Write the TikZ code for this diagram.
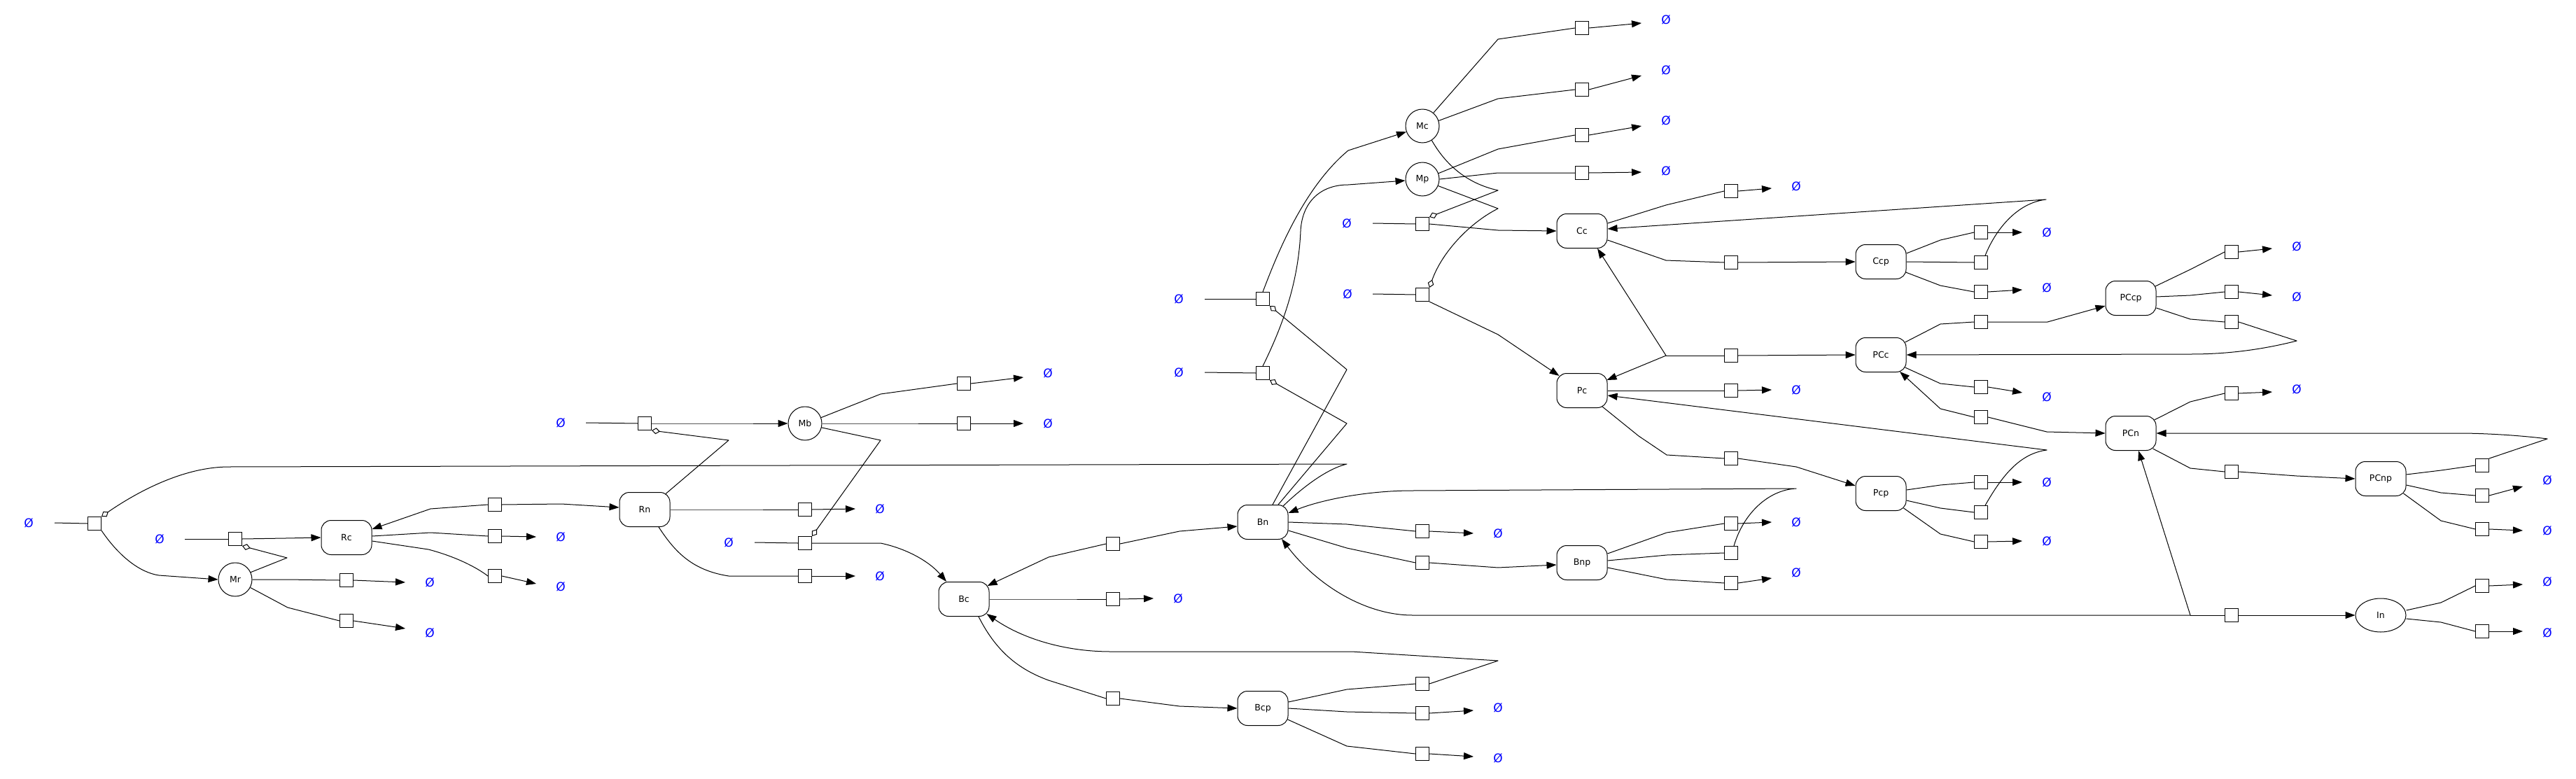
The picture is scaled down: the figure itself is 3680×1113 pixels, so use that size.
\documentclass[tikz,border=0pt]{standalone}
\usepackage{fontspec}
\setmainfont{DejaVu Sans}
\usetikzlibrary{arrows.meta,calc,shapes.geometric}
\begin{document}
\begin{tikzpicture}[x=1pt,y=-1pt,
  every node/.style={inner sep=0pt},
  pn/.style={draw,line width=1pt,rounded corners=14pt,minimum width=72pt,minimum height=49pt,font=\fontsize{12.5}{15}\selectfont},
  mc/.style={draw,line width=1pt,circle,minimum size=48pt,font=\fontsize{12.5}{15}\selectfont},
  iel/.style={draw,line width=1pt,ellipse,minimum width=72pt,minimum height=48pt,font=\fontsize{12.5}{15}\selectfont},
  pr/.style={draw,line width=1pt,fill=white,minimum size=19pt},
  es/.style={text=blue,font=\fontsize{17}{20}\selectfont},
  ln/.style={line width=1pt,line join=round},
  ar/.style={ln,-{Triangle[length=14pt,width=10pt]}},
  md/.style={ln,-{Diamond[open,length=12pt,width=9pt]}},
]
\useasboundingbox (0,0) rectangle (3680,1113);
% entities
\node[pn] (Rc) at (495,768) {Rc};
\node[pn] (Rn) at (921,728) {Rn};
\node[pn] (Bc) at (1377,856) {Bc};
\node[pn] (Bn) at (1804,746) {Bn};
\node[pn] (Bcp) at (1804,1012) {Bcp};
\node[pn] (Cc) at (2260,330) {Cc};
\node[pn] (Ccp) at (2687,374) {Ccp};
\node[pn] (Pc) at (2260,558) {Pc};
\node[pn] (PCc) at (2687,507) {PCc};
\node[pn] (Pcp) at (2687,705) {Pcp};
\node[pn] (Bnp) at (2260,804) {Bnp};
\node[pn] (PCcp) at (3044,426) {PCcp};
\node[pn] (PCn) at (3044,619) {PCn};
\node[pn] (PCnp) at (3401,684) {PCnp};
\node[mc] (Mr) at (336,828) {Mr};
\node[mc] (Mb) at (1150,605) {Mb};
\node[mc] (Mc) at (2032,180) {Mc};
\node[mc] (Mp) at (2032,256) {Mp};
\node[iel] (In) at (3401,879) {In};
% process squares
\node[pr] (s1) at (135,748) {};
\node[pr] (s2) at (336,770) {};
\node[pr] (s3) at (495,829) {};
\node[pr] (s4) at (495,887) {};
\node[pr] (s5) at (707,766) {};
\node[pr] (s6) at (707,823) {};
\node[pr] (s7) at (707,721) {};
\node[pr] (s8) at (921,605) {};
\node[pr] (s9) at (1377,548) {};
\node[pr] (s10) at (1377,605) {};
\node[pr] (s11) at (1150,776) {};
\node[pr] (s12) at (1150,728) {};
\node[pr] (s13) at (1150,823) {};
\node[pr] (s14) at (1804,427) {};
\node[pr] (s15) at (1804,533) {};
\node[pr] (s16) at (1590,777) {};
\node[pr] (s17) at (1590,856) {};
\node[pr] (s18) at (2032,759) {};
\node[pr] (s19) at (2032,804) {};
\node[pr] (s21) at (1590,998) {};
\node[pr] (s22) at (2032,977) {};
\node[pr] (s23) at (2032,1019) {};
\node[pr] (s24) at (2032,1077) {};
\node[pr] (s25) at (2032,421) {};
\node[pr] (s26) at (2260,40) {};
\node[pr] (s27) at (2260,128) {};
\node[pr] (s28) at (2260,193) {};
\node[pr] (s29) at (2260,247) {};
\node[pr] (s30) at (2032,320) {};
\node[pr] (s31) at (2473,273) {};
\node[pr] (s32) at (2830,375) {};
\node[pr] (s33) at (2473,375) {};
\node[pr] (s34) at (2830,332) {};
\node[pr] (s35) at (2830,417) {};
\node[pr] (s36) at (2473,508) {};
\node[pr] (s37) at (2473,558) {};
\node[pr] (s38) at (2830,460) {};
\node[pr] (s39) at (2830,553) {};
\node[pr] (s40) at (2830,596) {};
\node[pr] (s41) at (2473,655) {};
\node[pr] (s42) at (2830,732) {};
\node[pr] (s43) at (2830,689) {};
\node[pr] (s44) at (2830,774) {};
\node[pr] (s45) at (2473,748) {};
\node[pr] (s46) at (2473,790) {};
\node[pr] (s47) at (2473,833) {};
\node[pr] (s48) at (3188,360) {};
\node[pr] (s49) at (3188,417) {};
\node[pr] (s50) at (3188,460) {};
\node[pr] (s51) at (3188,562) {};
\node[pr] (s52) at (3546,665) {};
\node[pr] (s53) at (3188,674) {};
\node[pr] (s54) at (3546,708) {};
\node[pr] (s55) at (3546,756) {};
\node[pr] (s56) at (3188,879) {};
\node[pr] (s57) at (3546,837) {};
\node[pr] (s58) at (3546,902) {};
% sources
\node[es] (e1) at (41,747) {Ø};
\node[es] (e2) at (228,770) {Ø};
\node[es] (e3) at (801,604) {Ø};
\node[es] (e4) at (1041,775) {Ø};
\node[es] (e5) at (1684,427) {Ø};
\node[es] (e6) at (1684,532) {Ø};
\node[es] (e7) at (1925,420) {Ø};
\node[es] (e8) at (1924,319) {Ø};
% sinks
\node[es] (z3) at (614,832) {Ø};
\node[es] (z4) at (614,904) {Ø};
\node[es] (z5) at (801,767) {Ø};
\node[es] (z6) at (801,838) {Ø};
\node[es] (z9) at (1497,533) {Ø};
\node[es] (z10) at (1497,605) {Ø};
\node[es] (z12) at (1257,727) {Ø};
\node[es] (z13) at (1257,823) {Ø};
\node[es] (z17) at (1683,855) {Ø};
\node[es] (z18) at (2140,762) {Ø};
\node[es] (z23) at (2140,1011) {Ø};
\node[es] (z24) at (2140,1083) {Ø};
\node[es] (z26) at (2380,28) {Ø};
\node[es] (z27) at (2380,100) {Ø};
\node[es] (z28) at (2380,172) {Ø};
\node[es] (z29) at (2380,244) {Ø};
\node[es] (z31) at (2566,266) {Ø};
\node[es] (z34) at (2924,332) {Ø};
\node[es] (z35) at (2924,411) {Ø};
\node[es] (z37) at (2566,557) {Ø};
\node[es] (z39) at (2924,567) {Ø};
\node[es] (z43) at (2924,689) {Ø};
\node[es] (z44) at (2924,773) {Ø};
\node[es] (z45) at (2566,746) {Ø};
\node[es] (z47) at (2566,818) {Ø};
\node[es] (z48) at (3281,352) {Ø};
\node[es] (z49) at (3281,424) {Ø};
\node[es] (z51) at (3281,556) {Ø};
\node[es] (z54) at (3639,686) {Ø};
\node[es] (z55) at (3639,758) {Ø};
\node[es] (z57) at (3639,831) {Ø};
\node[es] (z58) at (3639,904) {Ø};
\coordinate (j1) at (2380,508);
\coordinate (j2) at (3129,879);
% ---- R module
\draw[ln] ($(e1)+(37,0)$) -- (s1.west);
\draw[ar] (s1.south east) .. controls (170,795) and (200,818) .. (227,822) -- (Mr.west);
\draw[md] ($(Bn.north)+(29,2)$) .. controls (1860,697) and (1895,670) .. (1924,663) -- (327,667) .. controls (265,667) and (200,700) .. (s1.north east);
\draw[ln] ($(e2)+(36,0)$) -- (s2.west);
\draw[ar] (s2.east) -- (408,769) -- (Rc.west);
\draw[md] (Mr.25) -- (410,797) -- (s2.south east);
\draw[ln] (Mr.east) -- (408,828) -- (s3.west);
\draw[ar] (s3.east) -- ($(z3)+(-35,0)$);
\draw[ln] (Mr.-28) -- (411,868) -- (s4.west);
\draw[ar] (s4.east) -- ($(z4)+(-35,-6)$);
\draw[ln] ($(Rc.east)+(0,-2)$) -- (615,761) -- (s5.west);
\draw[ar] (s5.east) -- ($(z5)+(-35,0)$);
\draw[ln] ($(Rc.east)+(0,5)$) -- (612,785) .. controls (650,795) and (680,810) .. (s6.west);
\draw[ar] (s6.east) -- ($(z6)+(-35,-4)$);
\draw[ar] (s7.west) -- (615,727) -- ($(Rc.east)+(0,-12)$);
\draw[ar] (s7.east) -- (802,720) -- ($(Rn.west)+(0,-3)$);
% ---- Rn / Mb
\draw[ln] ($(e3)+(36,0)$) -- (s8.west);
\draw[ar] (s8.east) -- (1041,605) -- (Mb.west);
\draw[md] ($(Rn.north)+(30,2.5)$) -- (1041,629) -- (s8.south east);
\draw[ln] (Mb.20) -- (1258,563) -- (s9.west);
\draw[ar] (s9.east) -- ($(z9)+(-35,6)$);
\draw[ln] (Mb.east) -- (1258,605) -- (s10.west);
\draw[ar] (s10.east) -- ($(z10)+(-35,0)$);
\draw[md] (Mb.-14) -- (1258,629) -- (s11.north east);
\draw[ln] (Rn.east) -- (1041,728) -- (s12.west);
\draw[ar] (s12.east) -- ($(z12)+(-35,0)$);
\draw[ln] ($(Rn.south)+(20,0)$) .. controls (965,790) and (990,815) .. (1041,823) -- (s13.west);
\draw[ar] (s13.east) -- ($(z13)+(-35,0)$);
\draw[ln] ($(e4)+(37,0)$) -- (s11.west);
\draw[ar] (s11.east) -- (1258,776) .. controls (1300,785) and (1330,805) .. ($(Bc.north)+(-25,0)$);
% ---- B module
\draw[ar] (s16.west) -- (1498,796) -- ($(Bc.east)+(-3,-19)$);
\draw[ar] (s16.east) -- (1685,759) -- ($(Bn.west)+(0,6)$);
\draw[ln] (Bc.east) -- (1498,856) -- (s17.west);
\draw[ar] (s17.east) -- ($(z17)+(-35,0)$);
\draw[ln] ($(Bc.south)+(21,0)$) .. controls (1425,935) and (1460,958) .. (1498,972) -- (s21.west);
\draw[ar] (s21.east) -- (1685,1009) -- (Bcp.west);
\draw[ln] ($(Bcp.east)+(0,-9)$) -- (1924,985) -- (s22.west);
\draw[ar] (s22.east) -- (2140,944) -- (1931,931) -- (1587,931) .. controls (1520,931) and (1460,912) .. ($(Bc.east)+(-4,21)$);
\draw[ln] (Bcp.east) -- (1924,1017) -- (s23.west);
\draw[ar] (s23.east) -- ($(z23)+(-35,4)$);
\draw[ln] ($(Bcp.east)+(-1,16)$) -- (1924,1066) -- (s24.west);
\draw[ar] (s24.east) -- ($(z24)+(-35,-2)$);
\draw[ln] (Bn.east) -- (1924,749) -- (s18.west);
\draw[ar] (s18.east) -- ($(z18)+(-35,0)$);
\draw[ln] ($(Bn.east)+(0,12)$) -- (1924,783) -- (s19.west);
\draw[ar] (s19.east) -- (2140,811) -- ($(Bnp.west)+(0,3)$);
\draw[md] ($(Bn.north)+(14,0)$) -- (1924,528) -- (s14.south east);
\draw[md] ($(Bn.north)+(22,0)$) -- (1924,605) -- (s15.south east);
% ---- M module
\draw[ln] ($(e5)+(37,0)$) -- (s14.west);
\draw[ln] ($(e6)+(37,0)$) -- (s15.west);
\draw[ar] (s14.north) .. controls (1822,370) and (1860,270) .. (1926,215) -- (Mc.200);
\draw[ar] (s15.north) .. controls (1835,460) and (1855,400) .. (1858,330) .. controls (1860,290) and (1885,264) .. (1926,264) -- ($(Mp.west)+(0,2)$);
\draw[ln] (Mc.50) -- (2140,56) -- (s26.west);
\draw[ar] (s26.east) -- ($(z26)+(-35,5)$);
\draw[ln] (Mc.18) -- (2140,141) -- (s27.west);
\draw[ar] (s27.east) -- ($(z27)+(-35,8)$);
\draw[ln] (Mp.20) -- (2140,213) -- (s28.west);
\draw[ar] (s28.east) -- ($(z28)+(-35,8)$);
\draw[ln] (Mp.east) -- (2140,247) -- (s29.west);
\draw[ar] (s29.east) -- ($(z29)+(-35,2)$);
\draw[md] (Mc.-57) .. controls (2065,235) and (2095,262) .. (2140,272) -- (s30.north east);
\draw[md] (Mp.-23) -- (2140,298) .. controls (2100,318) and (2060,360) .. (s25.north east);
% ---- C / P module
\draw[ln] ($(e8)+(37,0)$) -- (s30.west);
\draw[ar] (s30.east) -- (2140,329) -- (Cc.west);
\draw[ln] ($(e7)+(36,0)$) -- (s25.west);
\draw[ar] (s25.south east) -- (2140,478) -- ($(Pc.north west)+(4,4)$);
\draw[ln] ($(Cc.east)+(0,-11)$) -- (2380,293) -- (s31.west);
\draw[ar] (s31.east) -- ($(z31)+(-35,3)$);
\draw[ln] ($(Cc.east)+(0,13)$) -- (2380,372) -- (s33.west);
\draw[ar] (s33.east) -- (Ccp.west);
\draw[ln] (Ccp.east) -- (s32.west);
\draw[ar] ($(s32.north)+(6,0)$) .. controls (2850,330) and (2880,290) .. (2923,285) -- ($(Cc.east)+(0,-3)$);
\draw[ln] ($(Ccp.east)+(0,-12)$) -- (2772,343) -- (s34.west);
\draw[ar] (s34.east) -- ($(z34)+(-35,0)$);
\draw[ln] ($(Ccp.east)+(-1,15)$) -- (2772,408) -- (s35.west);
\draw[ar] (s35.east) -- ($(z35)+(-35,3)$);
\draw[ln] (s36.west) -- (j1);
\draw[ar] (j1) -- ($(Cc.south)+(22,0)$);
\draw[ar] (j1) -- ($(Pc.east)+(-1,-15)$);
\draw[ar] (s36.east) -- (PCc.west);
\draw[ln] (Pc.east) -- (s37.west);
\draw[ar] (s37.east) -- ($(z37)+(-35,0)$);
\draw[ln] ($(Pc.south)+(29,-2)$) -- (2341,623) -- (2381,650) -- (s41.west);
\draw[ar] (s41.east) -- (2566,667) -- ($(Pcp.west)+(0,-11)$);
\draw[ln] ($(Pcp.east)+(0,-5)$) -- (2772,693) -- (s43.west);
\draw[ar] (s43.east) -- ($(z43)+(-35,0)$);
\draw[ln] ($(Pcp.east)+(0,10)$) -- (2772,726) -- (s42.west);
\draw[ar] ($(s42.north)+(6,0)$) .. controls (2860,680) and (2885,648) .. (2924,643) -- ($(Pc.east)+(0,7)$);
\draw[ln] ($(Pcp.south east)+(-4,-4)$) -- (2772,763) -- (s44.west);
\draw[ar] (s44.east) -- ($(z44)+(-35,0)$);
% ---- PC module
\draw[ln] ($(PCc.east)+(-2,-18)$) -- (2772,463) -- (s38.west);
\draw[ar] (s38.east) -- (2925,460) -- ($(PCcp.west)+(0,11)$);
\draw[ln] ($(PCc.east)+(-2,18)$) -- (2772,548) -- (s39.west);
\draw[ar] (s39.east) -- ($(z39)+(-35,-6)$);
\draw[ar] (s40.west) -- (2772,584) -- ($(PCc.south)+(27,-1)$);
\draw[ar] (s40.east) -- (2924,617) -- (PCn.west);
\draw[ln] ($(PCcp.east)+(-1.5,-17)$) -- (3129,385) -- (s48.west);
\draw[ar] (s48.east) -- ($(z48)+(-35,3)$);
\draw[ln] ($(PCcp.east)+(0,-2)$) -- (3129,422) -- (s49.west);
\draw[ar] (s49.east) -- ($(z49)+(-35,-2)$);
\draw[ln] ($(PCcp.east)+(0,14)$) -- (3129,456) -- (s50.west);
\draw[ar] (s50.east) -- (3281,487) .. controls (3230,500) and (3180,506) .. (3130,506) -- (PCc.east);
\draw[ln] ($(PCn.east)+(-3,-19)$) -- (3129,574) -- (s51.west);
\draw[ar] (s51.east) -- ($(z51)+(-35,4)$);
\draw[ln] ($(PCn.east)+(-5,22)$) -- (3129,669) -- (s53.west);
\draw[ar] (s53.east) -- (3281,680) -- (PCnp.west);
\draw[ln] ($(PCnp.east)+(0,-6)$) -- (3487,672) -- (s52.west);
\draw[ar] (s52.north east) -- (3639,627) .. controls (3600,622) and (3550,619) .. (3512,619) -- (PCn.east);
\draw[ln] ($(PCnp.east)+(0,9)$) -- (3487,704) -- (s54.west);
\draw[ar] (s54.east) -- ($(z54)+(-35,9)$);
\draw[ln] ($(PCnp.south east)+(-4,-4)$) -- (3487,744) -- (s55.west);
\draw[ar] (s55.east) -- ($(z55)+(-35,0)$);
% ---- In
\draw[ln] (s56.west) -- (j2);
\draw[ar] (j2) -- ($(PCn.south)+(11,0)$);
\draw[ar] (j2) -- (2018,879) .. controls (1950,879) and (1880,835) .. ($(Bn.south)+(27,-1)$);
\draw[ar] (s56.east) -- (In.west);
\draw[ln] ($(In.east)+(0,-7)$) -- (3487,861) -- (s57.west);
\draw[ar] (s57.east) -- ($(z57)+(-35,4)$);
\draw[ln] ($(In.east)+(0,5)$) -- (3487,889) -- (s58.west);
\draw[ar] (s58.east) -- ($(z58)+(-35,-2)$);
% ---- Bnp
\draw[ln] ($(Bnp.east)+(0,-13)$) -- (2381,761) -- (s45.west);
\draw[ar] (s45.east) -- ($(z45)+(-35,0)$);
\draw[ln] ($(Bnp.east)+(0,-3)$) -- (2381,793) -- (s46.west);
\draw[ar] ($(s46.north)+(4,0)$) .. controls (2490,735) and (2525,700) .. (2566,698) -- (2018,701) .. controls (1950,701) and (1885,715) .. ($(Bn.east)+(0,-13)$);
\draw[ln] ($(Bnp.east)+(0,7)$) -- (2381,828) -- (s47.west);
\draw[ar] (s47.east) -- ($(z47)+(-35,8)$);
\end{tikzpicture}
\end{document}
